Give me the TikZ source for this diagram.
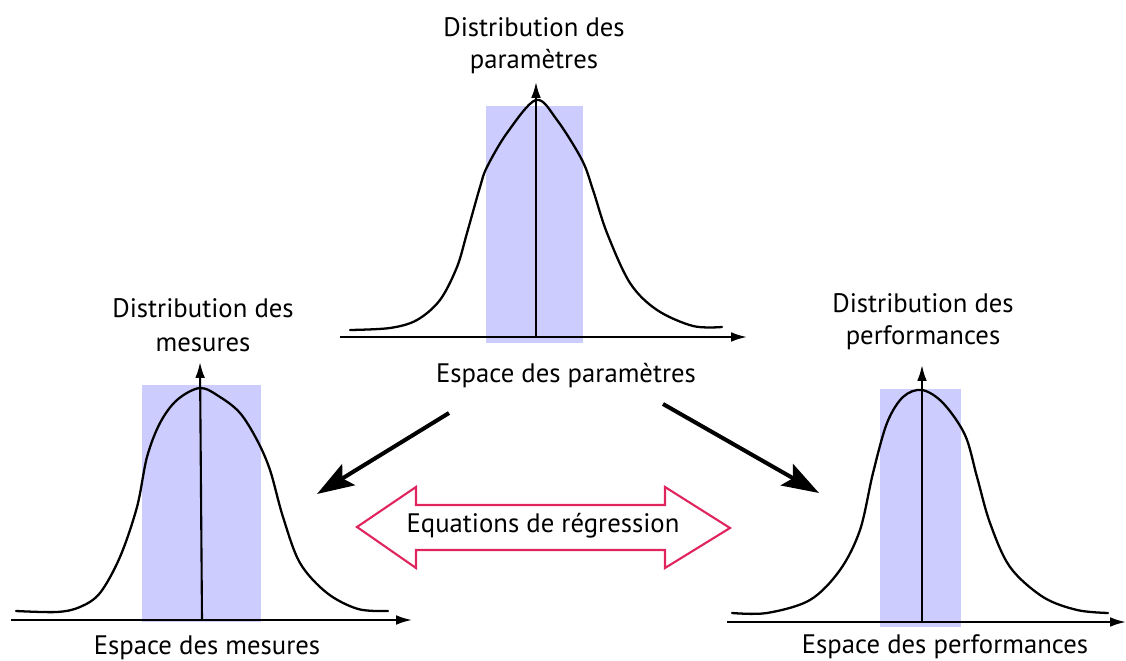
\documentclass[tikz,border=0pt]{standalone}
\usepackage{fontspec}
\setmainfont{PT Sans}
\usetikzlibrary{arrows.meta}
\definecolor{bandblue}{RGB}{204,204,255}
\definecolor{regpink}{RGB}{224,36,94}

\begin{document}
\begin{tikzpicture}[
    x=0.02cm,y=-0.02cm,
    band/.style={fill=bandblue,draw=none},
    curve/.style={line width=1.3pt,line cap=round,line join=round},
    axis/.style={-{Latex[length=9pt,width=5.5pt]},line width=1.2pt},
    flow/.style={-{Stealth[length=21pt,width=14pt,inset=4pt]},line width=2.3pt},
    regline/.style={draw=regpink,line width=1.2pt,line join=miter},
    lbl/.style={font=\fontsize{15.2}{18}\selectfont,inner sep=0pt,anchor=base}
]
\useasboundingbox (0,0) rectangle (1126,661);

% Parameter space (top)
\fill[band] (486,106) rectangle (583,343);
\draw[curve] plot[smooth,tension=0.55] coordinates {
  (350,330) (390,328) (417,320) (440,300) (457,267) (467,233) (480,187)
  (487,167) (507,133) (536,100) (557,120) (582,160) (593,190) (607,233)
  (630,283) (657,310) (693,326) (722,327)};
\coordinate (pl) at (340,337);
\coordinate (po) at (536,337);
\coordinate (px) at (747,337);
\coordinate (py) at (536,82);
\draw[axis] (pl) -- (px);
\draw[axis] (po) -- (py);
\node[lbl] (ptitle) at (534,37) {Distribution des};
\node[lbl] (ptitleb) at (534,69) {paramètres};
\node[lbl] (pspace) at (566,383) {Espace des paramètres};

% Measure space (left)
\fill[band] (142,385) rectangle (261,622);
\draw[curve] plot[smooth,tension=0.55] coordinates {
  (16,611) (57,612) (80,607) (100,593) (120,557) (137,507) (147,457)
  (160,423) (177,400) (200,388) (220,397) (240,413) (257,440) (270,470)
  (283,517) (300,563) (327,593) (358,609) (388,611)};
\coordinate (ml) at (11,620);
\coordinate (mo) at (202,620);
\coordinate (mx) at (412,620);
\coordinate (my) at (200,362);
\draw[axis] (ml) -- (mx);
\draw[axis] (mo) -- (my);
\node[lbl] (mtitle) at (203,318) {Distribution des};
\node[lbl] (mtitleb) at (203,352) {mesures};
\node[lbl] (mspace) at (207,655) {Espace des mesures};

% Performance space (right)
\fill[band] (880,389) rectangle (961,627);
\draw[curve] plot[smooth,tension=0.55] coordinates {
  (732,613) (767,613) (810,600) (840,570) (860,530) (873,473) (887,423)
  (903,397) (922,390) (943,403) (965,435) (977,477) (990,523) (1010,567)
  (1043,597) (1077,610) (1108,613)};
\coordinate (fl) at (727,622);
\coordinate (fo) at (922,622);
\coordinate (fx) at (1126,622);
\coordinate (fy) at (922,365);
\draw[axis] (fl) -- (fx);
\draw[axis] (fo) -- (fy);
\node[lbl] (ftitle) at (923,313) {Distribution des};
\node[lbl] (ftitleb) at (923,345) {performances};
\node[lbl] (fspace) at (945,654) {Espace des performances};

% Mappings from the parameter space
\coordinate (lstart) at (449,413);
\coordinate (ltip) at (317,494);
\coordinate (rstart) at (663,404);
\coordinate (rtip) at (819,493);
\draw[flow] (lstart) -- (ltip);
\draw[flow] (rstart) -- (rtip);

% Regression equations: two-headed outline arrow
\draw[regline] (357,527) -- (416,487) -- (416,505) -- (665,505) -- (665,487)
  -- (730,528) -- (665,568) -- (665,550) -- (416,550) -- (416,568) -- cycle;
\node[lbl] (reg) at (543,533) {Equations de régression};
\end{tikzpicture}
\end{document}
